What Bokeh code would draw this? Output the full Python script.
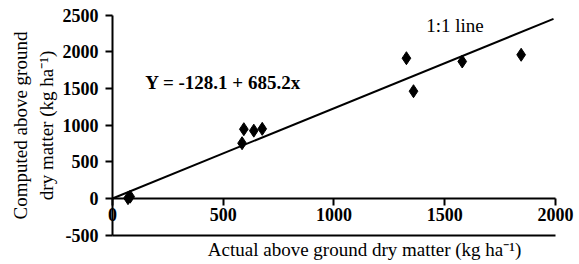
from bokeh.plotting import figure
from bokeh.models import LinearAxis, FixedTicker, Label, Range1d
from bokeh.embed import file_html
from bokeh.resources import INLINE

# data
actual = [70, 80, 585, 593, 638, 676, 1327, 1359, 1579, 1845]
computed = [5, 25, 754, 945, 925, 950, 1913, 1463, 1868, 1960]
line_x = [0, 1991]
line_y = [0, 2450]
x_ticks = [0, 500, 1000, 1500, 2000]
y_ticks = [-500, 0, 500, 1000, 1500, 2000, 2500]

FONT = "Liberation Serif"

p = figure(width=579, height=264, output_backend="svg", toolbar_location=None,
           x_range=Range1d(-505.6, 2108.4), y_range=Range1d(-900, 2700),
           min_border=0, x_axis_location=None, y_axis_location=None)
p.grid.visible = False
p.outline_line_color = None

def style(ax):
    ax.axis_line_width = 2
    ax.axis_line_color = "black"
    ax.major_tick_line_width = 2
    ax.major_tick_line_color = "black"
    ax.major_tick_in = 0
    ax.major_tick_out = 7
    ax.minor_tick_line_color = None
    ax.major_label_text_font = FONT
    ax.major_label_text_font_style = "bold"
    ax.major_label_text_font_size = "18px"
    ax.major_label_text_color = "black"

ya = LinearAxis(fixed_location=0, ticker=FixedTicker(ticks=y_ticks), bounds=(-500, 2500))
style(ya)
ya.major_label_overrides = {-500: "-500"}
ya.major_label_standoff = 7
ya.axis_label = "Computed above ground\ndry matter (kg ha\u207b\u00b9)"
ya.axis_label_text_font = FONT
ya.axis_label_text_font_style = "normal"
ya.axis_label_text_font_size = "19px"
ya.axis_label_text_color = "black"
ya.axis_label_standoff = 3
p.add_layout(ya, "left")

xa = LinearAxis(fixed_location=0, ticker=FixedTicker(ticks=x_ticks), bounds=(0, 2000))
style(xa)
xa.major_label_standoff = 2
p.add_layout(xa, "below")

bottom = LinearAxis(fixed_location=-500, ticker=FixedTicker(ticks=[]), bounds=(0, 2000),
                    axis_line_width=2, axis_line_color="black",
                    major_label_text_font_size="0px", major_tick_out=0, major_tick_in=0,
                    minor_tick_line_color=None)
p.add_layout(bottom, "below")

p.line(line_x, line_y, line_color="black", line_width=2)
p.scatter(actual, computed, marker="diamond", size=13, fill_color="black", line_color="black")

p.add_layout(Label(x=1138, y=-690, text="Actual above ground dry matter (kg ha\u207b\u00b9)",
                   text_font=FONT, text_font_size="19px", text_color="black",
                   text_align="center", text_baseline="middle"))
p.add_layout(Label(x=499, y=1580, text="Y = -128.1 + 685.2x",
                   text_font=FONT, text_font_style="bold", text_font_size="19px", text_color="black",
                   text_align="center", text_baseline="middle"))
p.add_layout(Label(x=1546, y=2360, text="1:1 line",
                   text_font=FONT, text_font_size="19px", text_color="black",
                   text_align="center", text_baseline="middle"))

open("out.html", "w").write(file_html(p, INLINE))
